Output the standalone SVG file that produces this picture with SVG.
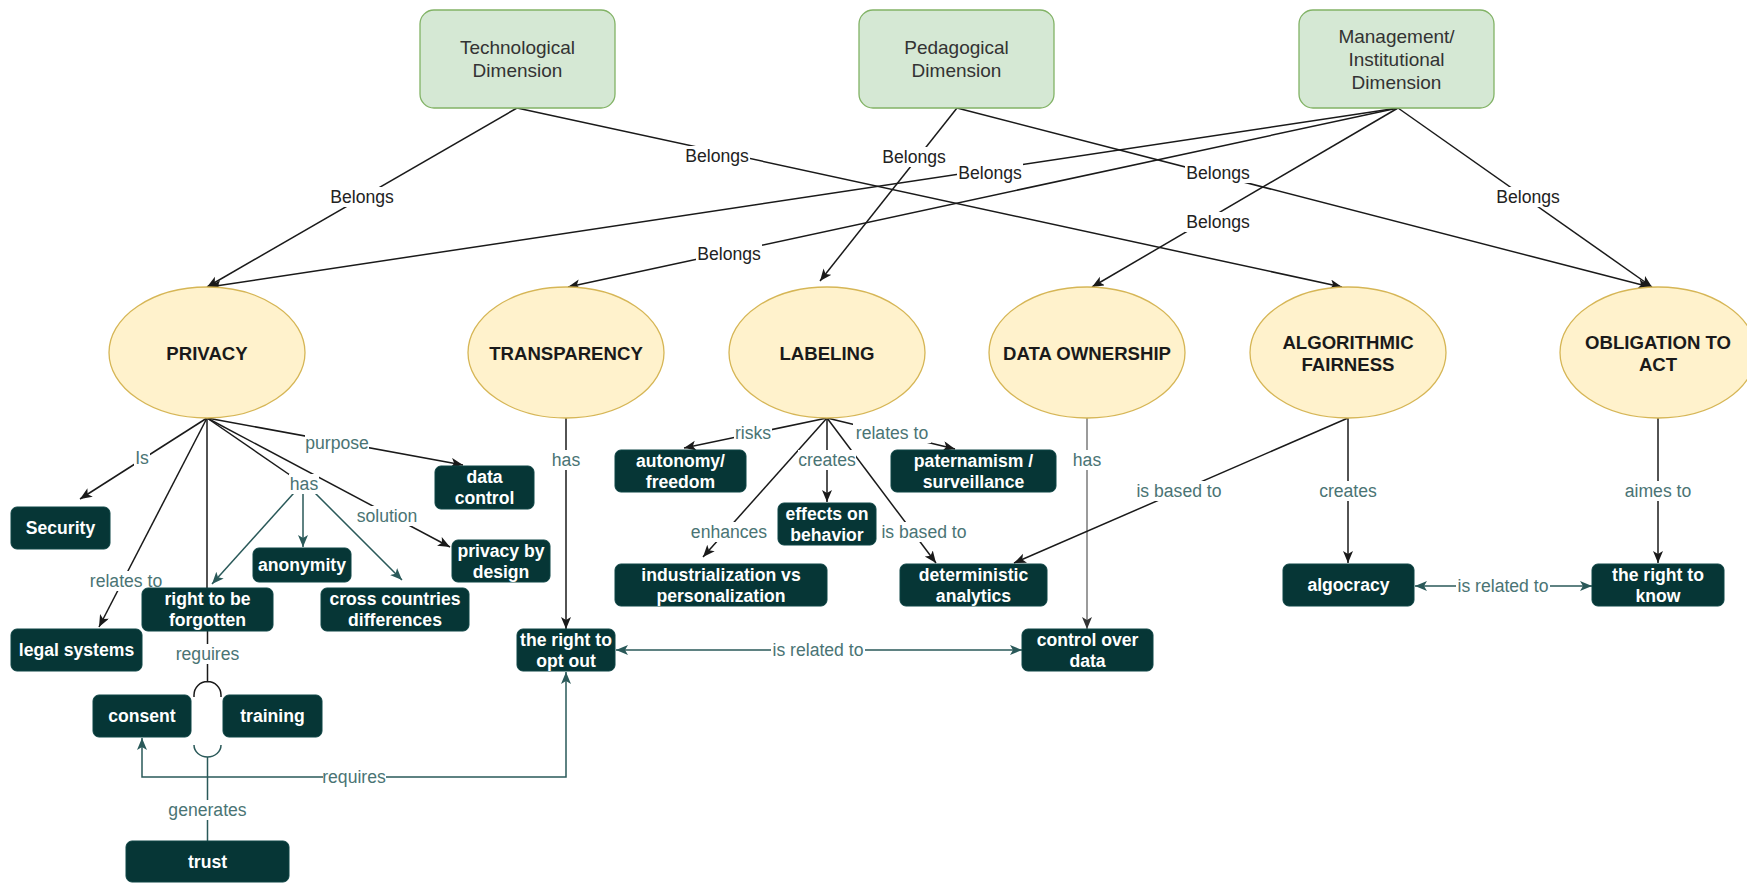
<svg xmlns="http://www.w3.org/2000/svg" width="1747" height="883" viewBox="0 0 1747 883">
<style>
text{font-family:"Liberation Sans",Arial,Helvetica,sans-serif;text-anchor:middle}
.dim rect{fill:#d5e8d4;stroke:#82b366;stroke-width:1.3}
.dim text{font-size:19px;fill:#333}
.con ellipse{fill:#fff2cc;stroke:#d6b656;stroke-width:1.3}
.con text{font-size:18.6px;font-weight:bold;fill:#1a1a1a}
.box rect{fill:#063636;stroke:#0d4444;stroke-width:1}
.box text{font-size:17.6px;font-weight:bold;fill:#fff}
.e{fill:none;stroke:#1a1a1a;stroke-width:1.5}
.t{fill:none;stroke:#2a5959;stroke-width:1.5}
.g{fill:none;stroke:#7a7a7a;stroke-width:1.5}
.lb{fill:#fff}
.lt{font-size:17.6px;fill:#4a7474}
.lk{font-size:17.6px;fill:#222}
</style>
<defs>
<marker id="ak" markerUnits="userSpaceOnUse" markerWidth="13" markerHeight="11" refX="12" refY="5" orient="auto-start-reverse"><path d="M0,0 L12,5 L0,10 L3,5 Z" fill="#1a1a1a"/></marker>
<marker id="at" markerUnits="userSpaceOnUse" markerWidth="13" markerHeight="11" refX="12" refY="5" orient="auto-start-reverse"><path d="M0,0 L12,5 L0,10 L3,5 Z" fill="#2a5959"/></marker>
<marker id="ag" markerUnits="userSpaceOnUse" markerWidth="13" markerHeight="11" refX="12" refY="5" orient="auto-start-reverse"><path d="M0,0 L12,5 L0,10 L3,5 Z" fill="#333"/></marker>
</defs>
<rect width="1747" height="883" fill="#fff"/>

<g id="connectors">
<!-- Belongs edges -->
<line class="e" x1="517" y1="108" x2="207" y2="287" marker-end="url(#ak)"/>
<line class="e" x1="517" y1="108" x2="1342" y2="287" marker-end="url(#ak)"/>
<line class="e" x1="957" y1="108" x2="820" y2="281" marker-end="url(#ak)"/>
<line class="e" x1="957" y1="108" x2="1650" y2="287" marker-end="url(#ak)"/>
<line class="e" x1="1398" y1="108" x2="209" y2="287" marker-end="url(#ak)"/>
<line class="e" x1="1398" y1="108" x2="568" y2="287" marker-end="url(#ak)"/>
<line class="e" x1="1398" y1="108" x2="1092" y2="287" marker-end="url(#ak)"/>
<line class="e" x1="1398" y1="108" x2="1652" y2="287" marker-end="url(#ak)"/>
<!-- PRIVACY edges -->
<line class="e" x1="207" y1="418" x2="80" y2="499" marker-end="url(#ak)"/>
<line class="e" x1="207" y1="418" x2="99" y2="627" marker-end="url(#ak)"/>
<line class="e" x1="207" y1="418" x2="207" y2="588"/>
<line class="e" x1="207" y1="418" x2="303" y2="484"/>
<line class="t" x1="302" y1="484" x2="212" y2="584" marker-end="url(#at)"/>
<line class="t" x1="303" y1="484" x2="303" y2="547" marker-end="url(#at)"/>
<line class="t" x1="306" y1="484" x2="402" y2="580" marker-end="url(#at)"/>
<line class="e" x1="207" y1="418" x2="463" y2="465" marker-end="url(#ak)"/>
<line class="e" x1="207" y1="418" x2="450" y2="547" marker-end="url(#ak)"/>
<!-- right to be forgotten / consent / training / trust -->
<path class="e" d="M207.5,631 V682.5 M194,697 V695 A13.5,13.5 0 0 1 221,695 V697"/>
<path class="t" d="M194,745 A13.5,12 0 0 0 221,745 M207.5,757 V841"/>
<!-- TRANSPARENCY -->
<line class="e" x1="566" y1="418" x2="566" y2="629" marker-end="url(#ak)"/>
<!-- LABELING -->
<line class="e" x1="827" y1="418" x2="684" y2="448" marker-end="url(#ak)"/>
<line class="e" x1="827" y1="418" x2="955" y2="449" marker-end="url(#ak)"/>
<line class="e" x1="827" y1="418" x2="827" y2="502" marker-end="url(#ak)"/>
<line class="e" x1="827" y1="418" x2="703" y2="557" marker-end="url(#ak)"/>
<line class="e" x1="827" y1="418" x2="936" y2="563" marker-end="url(#ak)"/>
<!-- DATA OWNERSHIP -->
<line class="g" x1="1087" y1="418" x2="1087" y2="629" marker-end="url(#ag)"/>
<!-- ALGORITHMIC FAIRNESS -->
<line class="e" x1="1348" y1="418" x2="1014" y2="563" marker-end="url(#ak)"/>
<line class="e" x1="1348" y1="418" x2="1348" y2="563" marker-end="url(#ak)"/>
<!-- OBLIGATION -->
<line class="e" x1="1658" y1="418" x2="1658" y2="563" marker-end="url(#ak)"/>
<!-- is related to -->
<line class="t" x1="1415" y1="586" x2="1592" y2="586" marker-start="url(#at)" marker-end="url(#at)"/>
<line class="t" x1="616" y1="650" x2="1022" y2="650" marker-start="url(#at)" marker-end="url(#at)"/>
<!-- requires -->
<path class="t" d="M566,672 V777 H142 V738" marker-start="url(#at)" marker-end="url(#at)"/>

<!-- labels -->
<g>
<rect class="lb" x="329" y="187" width="66" height="20"/><text class="lk" x="362" y="203">Belongs</text>
<rect class="lb" x="684" y="146" width="66" height="20"/><text class="lk" x="717" y="162">Belongs</text>
<rect class="lb" x="881" y="147" width="66" height="20"/><text class="lk" x="914" y="163">Belongs</text>
<rect class="lb" x="1185" y="163" width="66" height="20"/><text class="lk" x="1218" y="179">Belongs</text>
<rect class="lb" x="957" y="163" width="66" height="20"/><text class="lk" x="990" y="179">Belongs</text>
<rect class="lb" x="696" y="244" width="66" height="20"/><text class="lk" x="729" y="260">Belongs</text>
<rect class="lb" x="1185" y="212" width="66" height="20"/><text class="lk" x="1218" y="228">Belongs</text>
<rect class="lb" x="1495" y="187" width="66" height="20"/><text class="lk" x="1528" y="203">Belongs</text>

<rect class="lb" x="134" y="448" width="16" height="20"/><text class="lt" x="142" y="464">Is</text>
<rect class="lb" x="87" y="571" width="78" height="20"/><text class="lt" x="126" y="587">relates to</text>
<rect class="lb" x="289" y="474" width="30" height="20"/><text class="lt" x="304" y="490">has</text>
<rect class="lb" x="305" y="433" width="64" height="20"/><text class="lt" x="337" y="449">purpose</text>
<rect class="lb" x="356" y="506" width="62" height="20"/><text class="lt" x="387" y="522">solution</text>
<rect class="lb" x="176" y="644" width="63" height="20"/><text class="lt" x="207.5" y="660">reguires</text>
<rect class="lb" x="169" y="800" width="77" height="20"/><text class="lt" x="207.5" y="816">generates</text>
<rect class="lb" x="323" y="767" width="63" height="20"/><text class="lt" x="354" y="783">requires</text>
<rect class="lb" x="551" y="450" width="30" height="20"/><text class="lt" x="566" y="466">has</text>
<rect class="lb" x="734" y="423" width="38" height="20"/><text class="lt" x="753" y="439">risks</text>
<rect class="lb" x="853" y="423" width="78" height="20"/><text class="lt" x="892" y="439">relates to</text>
<rect class="lb" x="798" y="450" width="58" height="20"/><text class="lt" x="827" y="466">creates</text>
<rect class="lb" x="693" y="522" width="72" height="20"/><text class="lt" x="729" y="538">enhances</text>
<rect class="lb" x="882" y="522" width="84" height="20"/><text class="lt" x="924" y="538">is based to</text>
<rect class="lb" x="1072" y="450" width="30" height="20"/><text class="lt" x="1087" y="466">has</text>
<rect class="lb" x="1137" y="481" width="84" height="20"/><text class="lt" x="1179" y="497">is based to</text>
<rect class="lb" x="1319" y="481" width="58" height="20"/><text class="lt" x="1348" y="497">creates</text>
<rect class="lb" x="1625" y="481" width="66" height="20"/><text class="lt" x="1658" y="497">aimes to</text>
<rect class="lb" x="1456" y="576" width="94" height="20"/><text class="lt" x="1503" y="592">is related to</text>
<rect class="lb" x="771" y="640" width="94" height="20"/><text class="lt" x="818" y="656">is related to</text>
</g>
</g>

<!-- Dimension nodes -->
<g id="tech" class="dim"><rect x="420" y="10" width="195" height="98" rx="14"/><text x="517.5" y="54">Technological</text><text x="517.5" y="77">Dimension</text></g>
<g id="ped" class="dim"><rect x="859" y="10" width="195" height="98" rx="14"/><text x="956.5" y="54">Pedagogical</text><text x="956.5" y="77">Dimension</text></g>
<g id="mgmt" class="dim"><rect x="1299" y="10" width="195" height="98" rx="14"/><text x="1396.5" y="42.5">Management/</text><text x="1396.5" y="66">Institutional</text><text x="1396.5" y="89">Dimension</text></g>

<!-- Concept ellipses -->
<g id="privacy" class="con"><ellipse cx="207" cy="352.5" rx="98" ry="65.5"/><text x="207" y="359.5">PRIVACY</text></g>
<g id="transparency" class="con"><ellipse cx="566" cy="352.5" rx="98" ry="65.5"/><text x="566" y="359.5">TRANSPARENCY</text></g>
<g id="labeling" class="con"><ellipse cx="827" cy="352.5" rx="98" ry="65.5"/><text x="827" y="359.5">LABELING</text></g>
<g id="dataownership" class="con"><ellipse cx="1087" cy="352.5" rx="98" ry="65.5"/><text x="1087" y="359.5">DATA OWNERSHIP</text></g>
<g id="algfairness" class="con"><ellipse cx="1348" cy="352.5" rx="98" ry="65.5"/><text x="1348" y="348.5">ALGORITHMIC</text><text x="1348" y="370.5">FAIRNESS</text></g>
<g id="obligation" class="con"><ellipse cx="1658" cy="352.5" rx="98" ry="65.5"/><text x="1658" y="348.5">OBLIGATION TO</text><text x="1658" y="370.5">ACT</text></g>

<!-- Dark boxes -->
<g id="security" class="box"><rect x="11" y="507" width="99" height="42" rx="6"/><text x="60.5" y="534">Security</text></g>
<g id="datacontrol" class="box"><rect x="435" y="466" width="99" height="43" rx="6"/><text x="484.5" y="483">data</text><text x="484.5" y="504">control</text></g>
<g id="privacybydesign" class="box"><rect x="452" y="540" width="98" height="42" rx="6"/><text x="501" y="556.5">privacy by</text><text x="501" y="577.5">design</text></g>
<g id="anonymity" class="box"><rect x="253" y="548" width="98" height="34" rx="6"/><text x="302" y="571">anonymity</text></g>
<g id="rtbf" class="box"><rect x="142" y="588" width="131" height="43" rx="6"/><text x="207.5" y="605">right to be</text><text x="207.5" y="626">forgotten</text></g>
<g id="crosscountries" class="box"><rect x="321" y="588" width="148" height="43" rx="6"/><text x="395" y="605">cross countries</text><text x="395" y="626">differences</text></g>
<g id="legalsystems" class="box"><rect x="11" y="629" width="131" height="42" rx="6"/><text x="76.5" y="656">legal systems</text></g>
<g id="consent" class="box"><rect x="93" y="695" width="98" height="42" rx="6"/><text x="142" y="722">consent</text></g>
<g id="training" class="box"><rect x="223" y="695" width="99" height="42" rx="6"/><text x="272.5" y="722">training</text></g>
<g id="trust" class="box"><rect x="126" y="841" width="163" height="41" rx="6"/><text x="207.5" y="868">trust</text></g>
<g id="optout" class="box"><rect x="517" y="629" width="98" height="42" rx="6"/><text x="566" y="645.5">the right to</text><text x="566" y="666.5">opt out</text></g>
<g id="autonomy" class="box"><rect x="615" y="450" width="131" height="42" rx="6"/><text x="680.5" y="466.5">autonomy/</text><text x="680.5" y="487.5">freedom</text></g>
<g id="effects" class="box"><rect x="778" y="503" width="98" height="42" rx="6"/><text x="827" y="519.5">effects on</text><text x="827" y="540.5">behavior</text></g>
<g id="paternamism" class="box"><rect x="891" y="450" width="165" height="42" rx="6"/><text x="973.5" y="466.5">paternamism /</text><text x="973.5" y="487.5">surveillance</text></g>
<g id="industrialization" class="box"><rect x="615" y="564" width="212" height="42" rx="6"/><text x="721" y="580.5">industrialization vs</text><text x="721" y="601.5">personalization</text></g>
<g id="deterministic" class="box"><rect x="900" y="564" width="147" height="42" rx="6"/><text x="973.5" y="580.5">deterministic</text><text x="973.5" y="601.5">analytics</text></g>
<g id="controloverdata" class="box"><rect x="1022" y="629" width="131" height="42" rx="6"/><text x="1087.5" y="645.5">control over</text><text x="1087.5" y="666.5">data</text></g>
<g id="algocracy" class="box"><rect x="1283" y="564" width="131" height="42" rx="6"/><text x="1348.5" y="591">algocracy</text></g>
<g id="righttoknow" class="box"><rect x="1592" y="564" width="132" height="42" rx="6"/><text x="1658" y="580.5">the right to</text><text x="1658" y="601.5">know</text></g>
</svg>
